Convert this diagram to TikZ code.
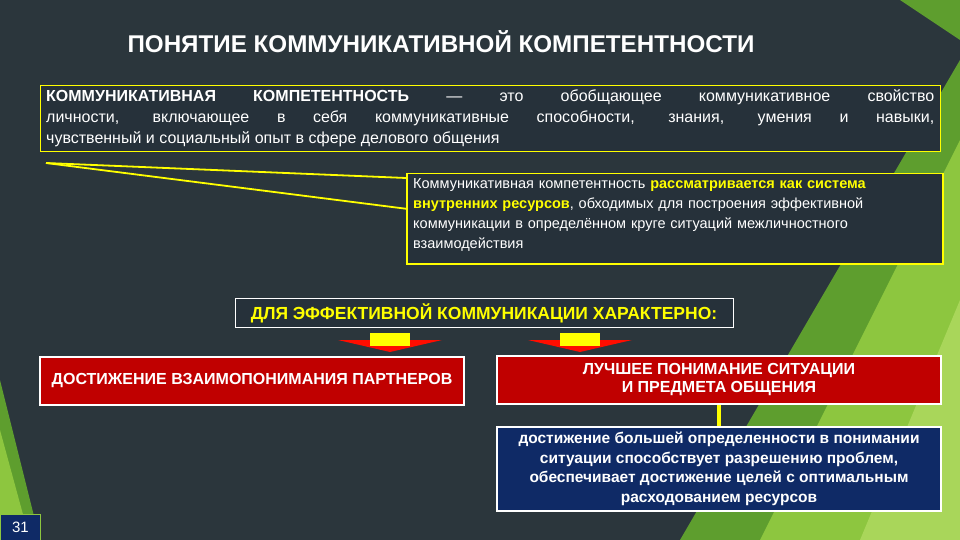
\documentclass[tikz,border=0pt]{standalone}
\usepackage{fontspec}
\setmainfont{Liberation Sans}
\definecolor{bg}{HTML}{2B363C}
\definecolor{g1}{HTML}{8DC63F}
\definecolor{g2}{HTML}{5E9E2E}
\definecolor{g3}{HTML}{A9D65A}
\definecolor{rbox}{HTML}{C00000}
\definecolor{nbox}{HTML}{0F2A66}
\definecolor{ylw}{HTML}{FFFF00}
\definecolor{box}{HTML}{26313A}
\tikzset{
 txt/.style={font=\bfseries\fontsize{16}{18}\selectfont, text=white},
 redbox/.style={draw=white, line width=1.5pt, fill=rbox, txt, align=center, inner sep=2pt},
}
\begin{document}
\begin{tikzpicture}[x=1pt,y=-1pt]
\useasboundingbox (0,0) rectangle (960,540);
\fill[bg] (0,0) rectangle (960,540);
% green decor
\fill[g2] (960,60) -- (960,540) -- (680,540) -- cycle;
\fill[g1] (960,140) -- (960,540) -- (760,540) -- cycle;
\fill[g3] (960,300) -- (960,540) -- (860,540) -- cycle;
\fill[g2] (900,0) -- (960,0) -- (960,40) -- cycle;
\fill[g2] (0,380) -- (40,540) -- (0,540) -- cycle;
\fill[g1] (0,430) -- (30,540) -- (0,540) -- cycle;
\node[txt, font=\bfseries\fontsize{24.2}{28}\selectfont, anchor=west] (title) at (124,42) {ПОНЯТИЕ КОММУНИКАТИВНОЙ КОМПЕТЕНТНОСТИ};
% definition box
\node[draw=ylw, line width=1.2pt, fill=box, anchor=north west, minimum width=900, minimum height=66, inner sep=0pt] (def) at (40,85) {};
\node[anchor=north west, text width=888, align=justify, text=white, font=\fontsize{16}{21}\selectfont, inner sep=0pt] (deft) at (46,89)
 {{\bfseries КОММУНИКАТИВНАЯ КОМПЕТЕНТНОСТЬ} — это обобщающее коммуникативное свойство\linebreak личности, включающее в себя коммуникативные способности, знания, умения и навыки,\linebreak чувственный и социальный опыт в сфере делового общения};
% second box
\node[draw=ylw, line width=1.5pt, fill=box, anchor=north west, minimum width=536, minimum height=90, inner sep=0pt] (sys) at (406,173) {};
\node[anchor=north west, text width=524, align=left, text=white, font=\fontsize{14.5}{20}\selectfont, inner sep=0pt] (syst) at (413,178)
 {Коммуникативная компетентность {\bfseries\color{ylw}рассматривается как система}\\{\bfseries\color{ylw}внутренних ресурсов}, обходимых для построения эффективной\\коммуникации в определённом круге ситуаций межличностного\\взаимодействия};
\coordinate (c1) at (46,163);
\draw[ylw, line width=1.8pt] (c1) -- ([yshift=-5]sys.north west);
\draw[ylw, line width=1.8pt] (c1) -- ([yshift=10]sys.west);
% header
\node[draw=white, line width=0.8pt, fill=box, font=\bfseries\fontsize{17.5}{19}\selectfont, text=ylw, minimum width=498, minimum height=29] (hdr) at (484,313) {ДЛЯ ЭФФЕКТИВНОЙ КОММУНИКАЦИИ ХАРАКТЕРНО:};
% arrows
\foreach \cx in {390, 580}{
 \fill[red!90!orange] (\cx-52,340) -- (\cx+52,340) -- (\cx,352) -- cycle;
 \fill[ylw] (\cx-20,333) rectangle (\cx+20,346);
}
\node[redbox, minimum width=424, minimum height=48] (r1) at (252,381) {ДОСТИЖЕНИЕ ВЗАИМОПОНИМАНИЯ ПАРТНЕРОВ};
\node[redbox, minimum width=444, minimum height=48] (r2) at (719,380) {ЛУЧШЕЕ ПОНИМАНИЕ СИТУАЦИИ\\И ПРЕДМЕТА ОБЩЕНИЯ};
\node[redbox, fill=nbox, minimum width=444, minimum height=84, font=\bfseries\fontsize{15.5}{19.5}\selectfont] (n1) at (719,469) {достижение большей определенности в понимании\\ситуации способствует разрешению проблем,\\обеспечивает достижение целей с оптимальным\\расходованием ресурсов};
\draw[ylw, line width=4pt] (r2.south) -- (n1.north);
% page number
\node[draw=g1, line width=1pt, fill=nbox, minimum width=40, minimum height=26, text=white, font=\fontsize{15}{17}\selectfont, anchor=north west] (pg) at (0,514) {31};
\end{tikzpicture}
\end{document}
